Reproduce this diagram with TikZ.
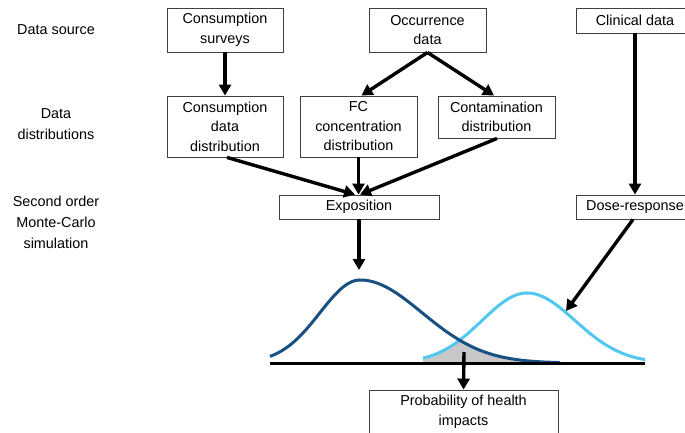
\documentclass[tikz,border=0pt]{standalone}
\usepackage{fontspec}
\setmainfont{Liberation Sans}
\usetikzlibrary{arrows.meta,calc}
\definecolor{darkcurve}{RGB}{25,80,130}
\definecolor{lightcurve}{RGB}{80,200,240}
\definecolor{overlapfill}{RGB}{200,200,200}
\begin{document}
\begin{tikzpicture}[x=1pt,y=-1pt,
  box/.style={draw=black!75,line width=0.9pt,align=center,inner sep=0pt,
    font=\fontsize{14.4}{19.5}\selectfont},
  lbl/.style={align=center,inner sep=0pt,font=\fontsize{14.4}{21}\selectfont},
  arr/.style={line width=3.4pt,-{Triangle[length=11pt,width=12pt]}},
  curve/.style={line width=3pt},
  declare function={
    hD(\t)=83*exp(-0.5*((\t-360)/ifthenelse(\t<360,40,62))^2);
    hC(\t)=70*exp(-0.5*((\t-527)/ifthenelse(\t<527,45,48))^2);
  }]
\useasboundingbox (0,0) rectangle (685,432);

% left labels
\node[lbl] (l1) at (56,30) {Data source};
\node[lbl] (l2) at (56,124) {Data\\distributions};
\node[lbl] (l3) at (56,222) {Second order\\Monte-Carlo\\simulation};

% boxes
\node[box,minimum width=116pt,minimum height=44pt] (cs) at (225,30) {Consumption\\surveys};
\node[box,minimum width=117pt,minimum height=44pt] (occ) at (427.5,30) {Occurrence\\data};
\node[box,minimum width=118pt,minimum height=25pt] (clin) at (635,20.5) {Clinical data};
\node[box,minimum width=116pt,minimum height=61pt] (cdd) at (225,126.5) {Consumption\\data\\distribution};
\node[box,minimum width=117pt,minimum height=61pt] (fc) at (358.5,126.5) {FC\\concentration\\distribution};
\node[box,minimum width=117pt,minimum height=42pt] (cont) at (496.5,117) {Contamination\\distribution};
\node[box,minimum width=160pt,minimum height=24pt] (expo) at (359,207) {Exposition};
\node[box,minimum width=118pt,minimum height=24pt] (dose) at (635,207) {Dose-response};
\node[box,minimum width=189pt,minimum height=44pt] (prob) at (463.5,412) {Probability of health\\impacts};

% curves
\coordinate (axL) at (270,363);
\coordinate (axR) at (645,363);
\coordinate (peakD) at (359,270);
\coordinate (onC) at (566,311);
\coordinate (ovl) at (464,352);

\fill[overlapfill] (423,363) -- plot[domain=423:560,samples=90] (\x,{363-min(hD(\x),hC(\x))}) -- (560,363) -- cycle;
\draw[curve,lightcurve] plot[domain=423:645,samples=120] (\x,{363-hC(\x)});
\draw[curve,darkcurve] plot[domain=270:560,samples=140] (\x,{363-hD(\x)});
\draw[line width=3pt] (axL) -- (axR);

% arrows
\draw[arr] (cs.south) -- (cdd.north);
\draw[arr] (occ.south) -- ($(fc.north)+(3,0)$);
\draw[arr] (occ.south) -- ($(cont.north)+(-2.5,0)$);
\draw[arr] ($(cdd.south)+(2,0)$) -- ($(expo.north)+(-4,0)$);
\draw[arr] (fc.south) -- ($(expo.north)+(-0.5,0)$);
\draw[arr] ($(cont.south)+(0.5,0)$) -- ($(expo.north)+(1,0)$);
\draw[arr] (clin.south) -- (dose.north);
\draw[arr] (expo.south) -- (peakD);
\draw[arr] ($(dose.south)+(-2,0)$) -- (onC);
\draw[arr] (ovl) -- (prob.north);
\end{tikzpicture}
\end{document}
